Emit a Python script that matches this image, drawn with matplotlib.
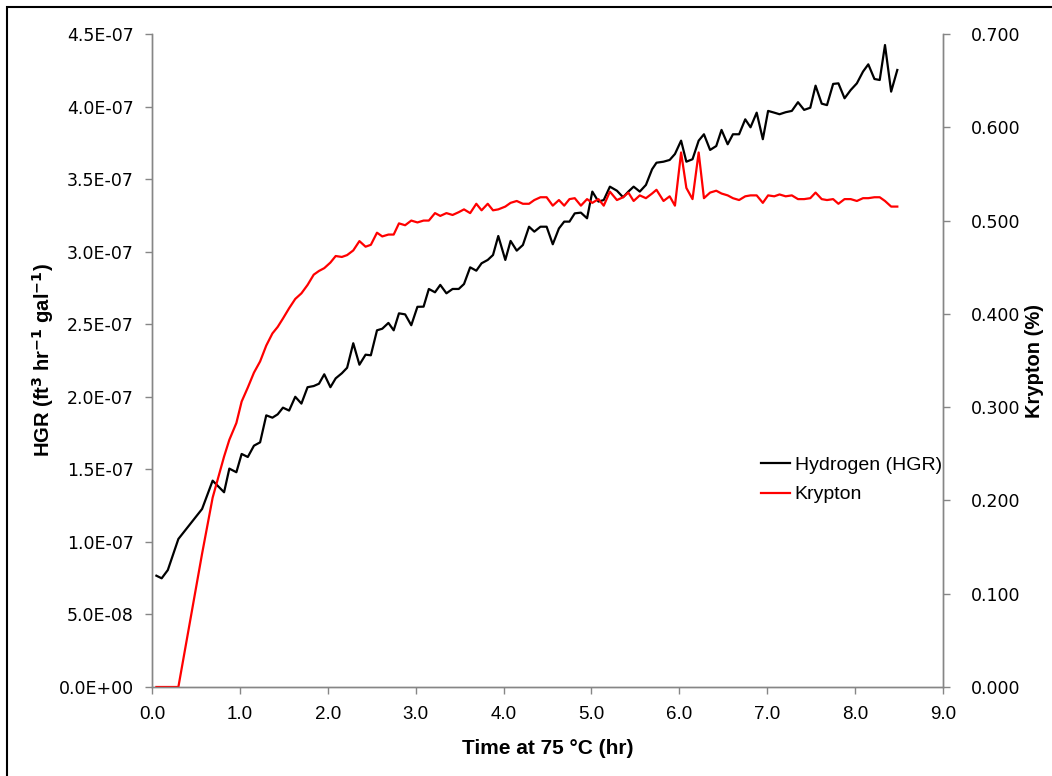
import matplotlib
matplotlib.use("Agg")
import matplotlib.pyplot as plt
from matplotlib.ticker import FuncFormatter, MultipleLocator
from matplotlib.patches import Rectangle

# time at 75 C (hr)
time_hr = [0.05, 0.11, 0.18, 0.30, 0.57, 0.69, 0.82, 0.88, 0.96, 1.02,
           1.09, 1.16, 1.23, 1.30, 1.37, 1.43, 1.49, 1.56, 1.63, 1.70,
           1.77, 1.84, 1.90, 1.96, 2.03, 2.09, 2.16, 2.22, 2.29, 2.36,
           2.43, 2.49, 2.56, 2.62, 2.69, 2.75, 2.81, 2.88, 2.95, 3.02,
           3.09, 3.15, 3.22, 3.28, 3.35, 3.42, 3.49, 3.55, 3.62, 3.69,
           3.75, 3.82, 3.88, 3.94, 4.02, 4.08, 4.15, 4.22, 4.29, 4.35,
           4.42, 4.49, 4.56, 4.63, 4.69, 4.75, 4.81, 4.88, 4.95, 5.01,
           5.08, 5.14, 5.21, 5.29, 5.36, 5.42, 5.48, 5.55, 5.62, 5.69,
           5.74, 5.82, 5.89, 5.95, 6.02, 6.08, 6.15, 6.22, 6.28, 6.35,
           6.42, 6.48, 6.55, 6.61, 6.68, 6.75, 6.81, 6.88, 6.95, 7.01,
           7.08, 7.14, 7.21, 7.28, 7.35, 7.42, 7.49, 7.55, 7.62, 7.68,
           7.75, 7.81, 7.88, 7.95, 8.02, 8.09, 8.15, 8.22, 8.28, 8.34,
           8.41, 8.48]

# hydrogen generation rate, in units of 1E-07 ft3/hr/gal
hgr_e7 = [0.767, 0.749, 0.806, 1.020, 1.227, 1.422, 1.342, 1.505, 1.480, 1.606,
          1.585, 1.663, 1.686, 1.872, 1.856, 1.879, 1.925, 1.905, 2.000, 1.953,
          2.066, 2.074, 2.090, 2.155, 2.066, 2.127, 2.162, 2.200, 2.369, 2.221,
          2.290, 2.286, 2.458, 2.469, 2.509, 2.458, 2.575, 2.568, 2.493, 2.620,
          2.621, 2.743, 2.720, 2.771, 2.713, 2.743, 2.743, 2.777, 2.892, 2.869,
          2.920, 2.943, 2.977, 3.108, 2.943, 3.074, 3.007, 3.046, 3.172, 3.138,
          3.172, 3.172, 3.051, 3.160, 3.207, 3.207, 3.264, 3.269, 3.230, 3.414,
          3.345, 3.356, 3.448, 3.420, 3.375, 3.414, 3.448, 3.414, 3.460, 3.568,
          3.613, 3.620, 3.632, 3.673, 3.765, 3.620, 3.637, 3.765, 3.809, 3.701,
          3.728, 3.839, 3.740, 3.809, 3.809, 3.912, 3.857, 3.958, 3.775, 3.970,
          3.958, 3.947, 3.961, 3.970, 4.030, 3.977, 3.992, 4.144, 4.020, 4.010,
          4.156, 4.160, 4.057, 4.114, 4.160, 4.241, 4.291, 4.190, 4.183, 4.424,
          4.103, 4.252]

# krypton (%)
krypton = [0.000, 0.000, 0.000, 0.000, 0.143, 0.203, 0.247, 0.265, 0.283, 0.306,
           0.321, 0.337, 0.349, 0.366, 0.379, 0.386, 0.395, 0.406, 0.416, 0.422,
           0.431, 0.442, 0.446, 0.449, 0.455, 0.462, 0.461, 0.463, 0.468, 0.478,
           0.472, 0.474, 0.487, 0.483, 0.485, 0.485, 0.497, 0.495, 0.500, 0.498,
           0.500, 0.500, 0.508, 0.505, 0.508, 0.506, 0.509, 0.512, 0.508, 0.518,
           0.511, 0.518, 0.511, 0.512, 0.515, 0.519, 0.521, 0.518, 0.518, 0.522,
           0.525, 0.525, 0.516, 0.522, 0.516, 0.523, 0.524, 0.516, 0.523, 0.519,
           0.523, 0.516, 0.531, 0.522, 0.525, 0.530, 0.521, 0.527, 0.524, 0.529,
           0.533, 0.521, 0.526, 0.516, 0.573, 0.535, 0.523, 0.573, 0.524, 0.530,
           0.532, 0.529, 0.527, 0.524, 0.522, 0.526, 0.527, 0.527, 0.519, 0.527,
           0.526, 0.528, 0.526, 0.527, 0.523, 0.523, 0.524, 0.530, 0.523, 0.522,
           0.523, 0.518, 0.523, 0.523, 0.521, 0.524, 0.524, 0.525, 0.525, 0.521,
           0.515, 0.515]

hgr = [v * 1e-7 for v in hgr_e7]

NARROW = ["Liberation Sans Narrow", "Liberation Sans", "DejaVu Sans"]
WIDE = ["DejaVu Sans"]
GRAY = "#868686"

plt.rcParams["mathtext.fontset"] = "custom"
plt.rcParams["mathtext.rm"] = "Liberation Sans Narrow"
plt.rcParams["mathtext.bf"] = "Liberation Sans Narrow:bold"

fig = plt.figure(figsize=(10.52, 7.76), dpi=100)
ax = fig.add_axes([152 / 1052, 1 - 687 / 776, (943 - 152) / 1052, (687 - 34) / 776])
ax2 = ax.twinx()

h_line, = ax.plot(time_hr, hgr, color="black", lw=1.6, label="Hydrogen (HGR)", zorder=3)
k_line, = ax2.plot(time_hr, krypton, color="#ff0000", lw=1.6, label="Krypton", zorder=2)

ax.set_xlim(0, 9)
ax.set_ylim(0, 4.5e-7)
ax2.set_ylim(0, 0.7)
ax.xaxis.set_major_locator(MultipleLocator(1))
ax.yaxis.set_major_locator(MultipleLocator(0.5e-7))
ax2.yaxis.set_major_locator(MultipleLocator(0.1))
ax.xaxis.set_major_formatter(FuncFormatter(lambda v, p: f"{v:.1f}"))
ax.yaxis.set_major_formatter(FuncFormatter(lambda v, p: f"{v:.1E}"))
ax2.yaxis.set_major_formatter(FuncFormatter(lambda v, p: f"{v:.3f}"))

for a in (ax, ax2):
    a.spines["top"].set_visible(False)
    for s in ("left", "right", "bottom"):
        a.spines[s].set_color(GRAY)
        a.spines[s].set_linewidth(1.0)
    a.tick_params(colors=GRAY, labelcolor="black", length=5, width=1.0, direction="out")
    a.set_facecolor("none")

ax.tick_params(axis="y", pad=8)
ax2.tick_params(axis="y", pad=15)
ax.tick_params(axis="x", pad=9)
for lab in ax.get_yticklabels() + ax2.get_yticklabels():
    lab.set_family(WIDE)
    lab.set_fontsize(12.5)
for lab in ax.get_xticklabels():
    lab.set_family(NARROW)
    lab.set_fontsize(13.5)

ax.set_xlabel("Time at 75 °C (hr)", family=NARROW, fontsize=15, fontweight="bold", labelpad=11)
ax.set_ylabel(r"HGR (ft$^{\mathbf{3}}$ hr$^{\mathbf{-1}}$ gal$^{\mathbf{-1}}$)",
              family=NARROW, fontsize=14.5, fontweight="bold", labelpad=2)
ax2.set_ylabel("Krypton (%)", family=NARROW, fontsize=14.5, fontweight="bold", labelpad=3)

fig.legend(handles=[h_line, k_line], loc="upper left",
           bbox_to_anchor=(743 / 1052, 1 - 439 / 776), frameon=False,
           prop={"family": NARROW, "size": 14}, handlelength=1.5,
           handletextpad=0.25, labelspacing=0.6)

# outer frame (only top and left edges show in the original crop)
fig.patches.append(Rectangle((7 / 1052, -0.1), 1.2, 1 - 7 / 776 + 0.1,
                             transform=fig.transFigure, fill=False,
                             edgecolor="black", lw=1.5))

fig.savefig("out.png", dpi=100)
